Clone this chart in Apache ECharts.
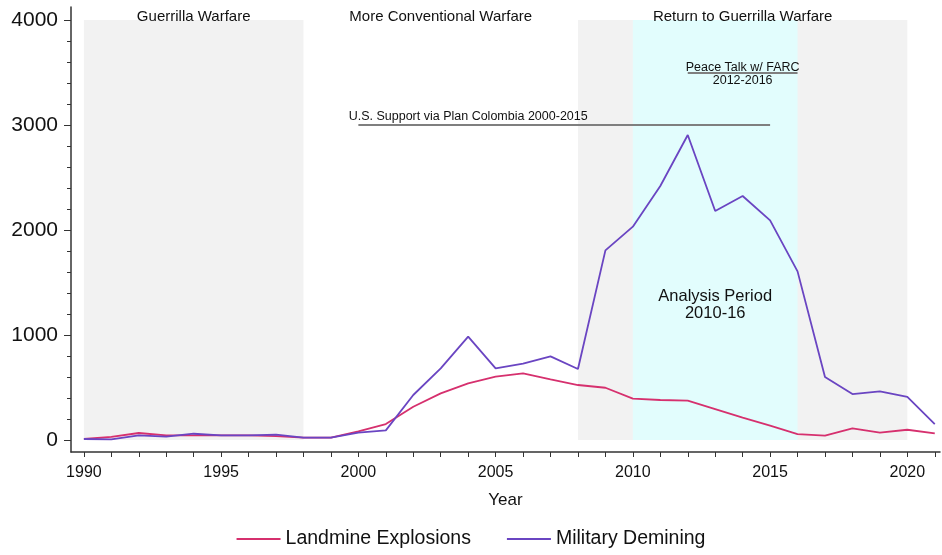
<!DOCTYPE html>
<html>
<head>
<meta charset="utf-8">
<script src="https://cdn.jsdelivr.net/npm/echarts@6/dist/echarts.min.js"></script>
<style>
html,body{margin:0;padding:0;background:#fff;}
#main{width:942px;height:555px;}
</style>
</head>
<body>
<div id="main"></div>
<script>
var years = [1990,1991,1992,1993,1994,1995,1996,1997,1998,1999,2000,2001,2002,2003,2004,2005,2006,2007,2008,2009,2010,2011,2012,2013,2014,2015,2016,2017,2018,2019,2020,2021];
var landmine = [10,30,67,45,45,45,45,38,22,22,83,152,317,444,540,603,635,578,524,498,394,381,375,295,213,137,57,41,111,70,98,63];
var demining = [10,6,45,32,60,45,45,51,22,22,70,92,429,683,984,683,727,797,676,1806,2032,2419,2905,2181,2324,2092,1606,600,438,463,410,152];
var yTicks = [0,1000,2000,3000,4000];
var yMinorTicks = [200,400,600,800,1200,1400,1600,1800,2200,2400,2600,2800,3200,3400,3600,3800];
var xLabels = [1990,1995,2000,2005,2010,2015,2020];
var grayPeriods = [[1990,1998],[2008,2020]];
var cyanPeriod = [2010,2016];
var usSupport = {start:2000,end:2015,value:3000};
var peaceTalk = {start:2012,end:2016,value:3500};
var eraLabels = [
  {text:'Guerrilla Warfare', x:1994, y:4030},
  {text:'More Conventional Warfare', x:2003, y:4030},
  {text:'Return to Guerrilla Warfare', x:2014, y:4030}
];
var noteLabels = [
  {text:'U.S. Support via Plan Colombia 2000-2015', x:2004, y:3083},
  {text:'Peace Talk w/ FARC', x:2014, y:3550},
  {text:'2012-2016', x:2014, y:3425}
];
var analysisLabel = {text:'Analysis Period\n2010-16', x:2013, y:1286};

var FONT = '"Liberation Sans", Arial, Helvetica, sans-serif';
var chart = echarts.init(document.getElementById('main'), null, {renderer:'canvas'});

function pairs(xs, ys){ return xs.map(function(x,i){ return [x, ys[i]]; }); }

function txt(l, size){
  return {
    coord:[l.x, l.y], value:l.text,
    symbol:'circle', symbolSize:0,
    label:{show:true, position:'inside', formatter:l.text, color:'#111', fontSize:size, fontFamily:FONT, lineHeight:Math.round(size*1.05)}
  };
}

var markAreaData = grayPeriods.map(function(p){
  return [{xAxis:p[0], yAxis:0, itemStyle:{color:'#f2f2f2'}},{xAxis:p[1], yAxis:4000}];
});
markAreaData.push([{xAxis:cyanPeriod[0], yAxis:0, itemStyle:{color:'#e2fdfd'}},{xAxis:cyanPeriod[1], yAxis:4000}]);

var option = {
  animation:false,
  backgroundColor:'#fff',
  grid:{left:71, right:2, top:7, bottom:103, containLabel:false},
  legend:{
    bottom:1, left:'center',
    itemWidth:44, itemHeight:12, itemGap:36,
    textStyle:{fontSize:19.5, fontFamily:FONT, color:'#111'},
    data:[{name:'Landmine Explosions', icon:'path://M0,5 L44,5 L44,7 L0,7 Z'},{name:'Military Demining', icon:'path://M0,5 L44,5 L44,7 L0,7 Z'}]
  },
  xAxis:{
    type:'value', min:1989.53, max:2021.19,
    name:'Year', nameLocation:'middle', nameGap:40,
    nameTextStyle:{fontSize:17, fontFamily:FONT, color:'#111'},
    axisLine:{show:true, onZero:false, lineStyle:{color:'#333', width:1.5}},
    axisTick:{show:true, length:5, customValues:years, lineStyle:{color:'#333', width:1}},
    axisLabel:{customValues:xLabels, fontSize:16, fontFamily:FONT, color:'#111', margin:13, formatter:function(v){return String(v);}},
    splitLine:{show:false}
  },
  yAxis:[{
    type:'value', min:-114, max:4124,
    axisLine:{show:true, onZero:false, lineStyle:{color:'#333', width:1.5}},
    axisTick:{show:true, length:7, customValues:yTicks, lineStyle:{color:'#333', width:1}},
    axisLabel:{customValues:yTicks, fontSize:21, fontFamily:FONT, color:'#111', margin:13, formatter:function(v){return String(v);}},
    splitLine:{show:false}
  },{
    type:'value', min:-114, max:4124, position:'left',
    axisLine:{show:false},
    axisTick:{show:true, length:4, customValues:yMinorTicks, lineStyle:{color:'#333', width:1}},
    axisLabel:{show:false},
    splitLine:{show:false}
  }],
  series:[
    {
      name:'shading', type:'line', data:[], silent:true,
      markArea:{silent:true, data:markAreaData}
    },
    {
      name:'annotations', type:'line', data:[], silent:true,
      markLine:{
        silent:true, symbol:'none', animation:false,
        lineStyle:{color:'#7f7f7f', width:2, type:'solid'},
        label:{show:false},
        data:[
          [{coord:[usSupport.start, usSupport.value]},{coord:[usSupport.end, usSupport.value]}],
          [{coord:[peaceTalk.start, peaceTalk.value]},{coord:[peaceTalk.end, peaceTalk.value]}]
        ]
      },
      markPoint:{
        silent:true,
        data: eraLabels.map(function(l){return txt(l,15);})
          .concat(noteLabels.map(function(l){return txt(l,12.5);}))
          .concat([txt(analysisLabel,16.5)])
      }
    },
    {
      name:'Landmine Explosions', type:'line', data:pairs(years, landmine),
      showSymbol:false, symbol:'none', color:'#d6306e',
      lineStyle:{width:1.8, color:'#d6306e'}, z:5
    },
    {
      name:'Military Demining', type:'line', data:pairs(years, demining),
      showSymbol:false, symbol:'none', color:'#6a45c2',
      lineStyle:{width:1.8, color:'#6a45c2'}, z:5
    }
  ]
};
chart.setOption(option);
</script>
</body>
</html>
